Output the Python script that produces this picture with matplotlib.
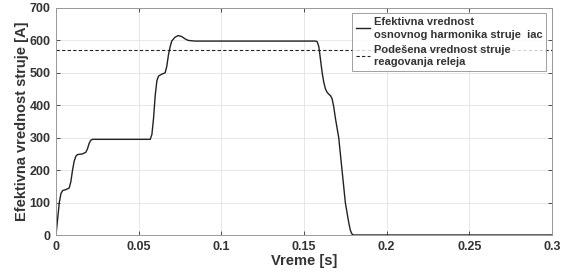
import matplotlib
matplotlib.use('Agg')
import matplotlib.pyplot as plt

# time [s] and rms current [A]
t = [0, 0.001, 0.002, 0.003, 0.004, 0.006, 0.008, 0.009, 0.010, 0.011, 0.012,
     0.013, 0.016, 0.018, 0.019, 0.020, 0.021, 0.022, 0.057, 0.058, 0.059,
     0.060, 0.061, 0.062, 0.064, 0.066, 0.067, 0.068, 0.069, 0.070, 0.072,
     0.074, 0.076, 0.078, 0.080, 0.084, 0.157, 0.158, 0.159, 0.160, 0.161,
     0.162, 0.163, 0.164, 0.165, 0.166, 0.167, 0.168, 0.169, 0.171, 0.173,
     0.175, 0.177, 0.178, 0.179, 0.180, 0.3]
i_rms = [0, 50, 100, 128, 137, 140, 145, 165, 200, 228, 243,
         248, 250, 255, 265, 282, 292, 295, 295, 310, 360,
         430, 475, 490, 496, 500, 520, 555, 580, 598, 610,
         615, 612, 605, 600, 598, 598, 596, 580, 540, 500,
         470, 450, 440, 434, 430, 420, 395, 360, 300, 200,
         100, 40, 15, 3, 0, 0]
i_set = 570

labels = ['Efektivna vrednost\nosnovnog harmonika struje  iac',
          'Podešena vrednost struje\nreagovanja releja']

plt.rcParams['font.family'] = ['Liberation Sans', 'DejaVu Sans']
plt.rcParams['font.weight'] = 'bold'

fig = plt.figure(figsize=(5.66, 2.75), dpi=100)
ax = fig.add_axes([56/566, 1-235/275, (552-56)/566, (235-8)/275])

ax.plot(t, i_rms, color='#222222', lw=1.0, label=labels[0])
ax.axhline(i_set, color='#222222', lw=0.8, ls=(0, (3, 2)), label=labels[1])

ax.set_xlim(0, 0.3)
ax.set_ylim(0, 700)
ax.set_xticks([0, 0.05, 0.1, 0.15, 0.2, 0.25, 0.3])
ax.set_xticklabels(['0', '0.05', '0.1', '0.15', '0.2', '0.25', '0.3'])
ax.set_yticks(range(0, 701, 100))
ax.tick_params(direction='in', labelsize=9, top=True, right=True,
               length=3, width=0.6, colors='#333333', pad=4)
ax.grid(True, color='#e3e3e3', lw=0.6)
for s in ax.spines.values():
    s.set_color('#999999')
    s.set_linewidth(0.7)

ax.set_xlabel('Vreme [s]', fontsize=10.5, fontweight='bold', labelpad=1, color='#333333')
ax.set_ylabel('Efektivna vrednost struje [A]', fontsize=10.5, fontweight='bold',
              labelpad=0, color='#333333')

leg = ax.legend(loc='upper right', bbox_to_anchor=(0.988, 0.978), fontsize=8,
                frameon=True, fancybox=False, edgecolor='#888888',
                handlelength=1.3, handletextpad=0.3, borderpad=0.35,
                labelspacing=0.45, borderaxespad=0)
leg.get_frame().set_linewidth(0.7)
for txt in leg.get_texts():
    txt.set_color('#333333')
    txt.set_linespacing(1.35)

fig.savefig('out.png', dpi=100)
